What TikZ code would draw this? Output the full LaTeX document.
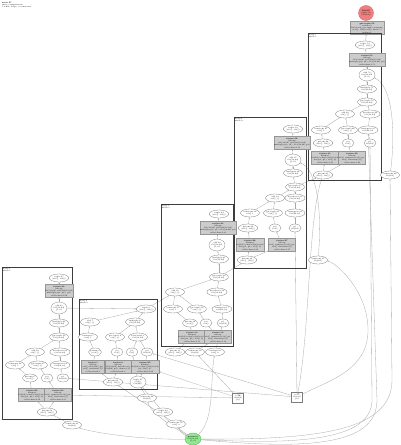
\documentclass[tikz,border=0pt]{standalone}
\usetikzlibrary{shapes.geometric,arrows.meta,backgrounds}

\definecolor{edgegray}{RGB}{168,168,168}
\definecolor{opline}{RGB}{125,125,125}
\definecolor{fusfill}{RGB}{204,204,204}
\definecolor{fusline}{RGB}{150,150,150}
\definecolor{clusline}{RGB}{60,60,60}
\definecolor{rootfill}{RGB}{240,128,128}
\definecolor{rootline}{RGB}{205,90,90}
\definecolor{parfill}{RGB}{144,232,144}
\definecolor{parline}{RGB}{70,175,70}

\newcommand\tn{\fontsize{1.9}{2.3}\selectfont}

\tikzset{
  op/.style={ellipse, draw=opline, fill=white, line width=0.3pt, inner sep=0pt,
    minimum width=19bp, minimum height=8bp, align=center, font=\tn},
  opsm/.style={op, minimum width=12bp},
  optup/.style={op, minimum width=16bp, minimum height=12bp},
  fus/.style={rectangle, draw=fusline, fill=fusfill, line width=0.3pt, inner sep=0.4pt,
    minimum width=25bp, minimum height=13bp, align=center, font=\tn},
  cst/.style={rectangle, draw=opline, fill=white, line width=0.3pt, inner sep=0.4pt,
    minimum width=11bp, minimum height=10bp, align=center, font=\tn},
  clus/.style={draw=clusline, line width=0.8pt},
  clabel/.style={anchor=north west, inner sep=0.6pt, align=left, font=\tn},
  ed/.style={draw=edgegray, line width=0.3pt, -{Stealth[length=1.4bp,width=1.1bp]}}
}

\begin{document}
\begin{tikzpicture}[x=1bp, y=-1bp]
\useasboundingbox (0,0) rectangle (400,445);

\node[clabel] (title) at (1,1) {\textbf{main.57}\\entry computation\\5 while loops, 2 constants};

% root and output
\node[ellipse, draw=rootline, fill=rootfill, line width=0.3pt, inner sep=0pt,
  minimum width=15bp, minimum height=15bp, align=center, font=\tn] (r0) at (366,13) {\textbf{ROOT}\\tuple.56\\(f32[64])};
\node[fus] (g0) at (367,28) {\textbf{get-tuple.55}\\index=0\\f32[32,64] get-tuple-element(\\(s32[], f32[32,64]) while.5)\\index=1};

% while body 1
\draw[clus] (308,33) rectangle (381,180);
\node[clabel] at (308,33) {body.5\\while.5};
\node[op] (a1) at (365,45) {tuple.54\\(s32[], f32[])};
\node[fus] (a2) at (367,60) {\textbf{fusion.53}\\kLoop\\f32[32,64] add(f32[32,64]\\multiply(p0, p1), f32[32,64] p2)\\calls=fused.53};
\node[optup] (a3) at (367,75) {add.52\\f32[32,64]\\\{1,0\}};
\node[op] (a4) at (367,89) {multiply.51\\f32[32,64]};
\node[op] (a5) at (367,102) {get-tuple.50\\f32[32,64]};
\node[op] (a6) at (345,114) {add.49\\s32[] \{\}};
\node[op] (a7) at (370,114) {broadcast.48\\f32[32,64]};
\node[op] (a8) at (321,130) {constant.47\\s32[] 1};
\node[op] (a9) at (348,130) {get-tuple.46\\s32[] \{\}};
\node[op] (a10) at (368,130) {transpose.45\\f32[64,32]};
\node[op] (a11) at (323,143) {param.44\\(s32[], f32[])};
\node[opsm] (a12) at (348,143) {p.0\\s32[]};
\node[opsm] (a13) at (370,143) {p.1\\f32[64]};
\node[fus] (a14) at (325,158) {\textbf{fusion.43}\\kInput\\f32[64] reduce(f32[32,64]\\dot(p0, p1), f32[] 0)\\calls=fused.43};
\node[fus] (a15) at (352,158) {\textbf{fusion.42}\\kLoop\\s32[] compare(s32[] p0,\\s32[] constant(8))\\calls=fused.42};
\node[op] (a16) at (323,175) {param.41\\(s32[], f32[])};
\node[op] (a17) at (390,175) {constant.40\\f32[64]};

% while body 2
\draw[clus] (234,117) rectangle (306,268);
\node[clabel] at (234,117) {body.4\\while.4};
\node[op] (b1) at (293,129) {tuple.39\\(s32[], f32[])};
\node[fus] (b2) at (292,143) {\textbf{fusion.38}\\kLoop\\f32[32,64] add(f32[32,64]\\multiply(p0, p1), f32[32,64] p2)\\calls=fused.38};
\node[optup] (b3) at (293,160) {add.37\\f32[32,64]\\\{1,0\}};
\node[op] (b4) at (293,173) {multiply.36\\f32[32,64]};
\node[op] (b5) at (295,187) {get-tuple.35\\f32[32,64]};
\node[op] (b6) at (275,198) {add.34\\s32[] \{\}};
\node[op] (b7) at (295,198) {broadcast.33\\f32[32,64]};
\node[op] (b8) at (250,213) {constant.32\\s32[] 1};
\node[op] (b9) at (273,213) {get-tuple.31\\s32[] \{\}};
\node[op] (b10) at (295,213) {transpose.30\\f32[64,32]};
\node[op] (b11) at (248,228) {param.29\\(s32[], f32[])};
\node[opsm] (b12) at (275,228) {p.0\\s32[]};
\node[opsm] (b13) at (295,228) {p.1\\f32[64]};
\node[fus] (b14) at (250,245) {\textbf{fusion.28}\\kInput\\f32[64] reduce(f32[32,64]\\dot(p0, p1), f32[] 0)\\calls=fused.28};
\node[fus] (b15) at (282,245) {\textbf{fusion.27}\\kLoop\\s32[] compare(s32[] p0,\\s32[] constant(8))\\calls=fused.27};
\node[op] (b16) at (247,260) {param.26\\(s32[], f32[])};
\node[op] (b17) at (318,260) {constant.25\\f32[64]};

% while body 3
\draw[clus] (161,204) rectangle (233,346);
\node[clabel] at (161,204) {body.3\\while.3};
\node[op] (c1) at (219,214) {tuple.24\\(s32[], f32[])};
\node[fus] (c2) at (218,228) {\textbf{fusion.23}\\kLoop\\f32[32,64] add(f32[32,64]\\multiply(p0, p1), f32[32,64] p2)\\calls=fused.23};
\node[optup] (c3) at (217,245) {add.22\\f32[32,64]\\\{1,0\}};
\node[op] (c4) at (219,259) {multiply.21\\f32[32,64]};
\node[op] (c5) at (219,277) {get-tuple.20\\f32[32,64]};
\node[op] (c6) at (175,292) {add.19\\s32[] \{\}};
\node[op] (c7) at (217,292) {broadcast.18\\f32[32,64]};
\node[op] (c8) at (173,309) {constant.17\\s32[] 1};
\node[op] (c9) at (197,309) {get-tuple.16\\s32[] \{\}};
\node[op] (c10) at (222,309) {transpose.15\\f32[64,32]};
\node[opsm] (c11) at (190,323) {param.14\\(s32[])};
\node[opsm] (c12) at (206,323) {p.0\\s32[]};
\node[opsm] (c13) at (223,323) {p.1\\f32[64]};
\node[fus, minimum width=24bp] (c14) at (192,337) {\textbf{fusion.13}\\kInput\\f32[64] reduce(f32[32,64]\\dot(p0, p1), f32[] 0)\\calls=fused.13};
\node[fus, minimum width=24bp] (c15) at (218,337) {\textbf{fusion.12}\\kLoop\\s32[] compare(s32[] p0,\\s32[] constant(8))\\calls=fused.12};
\node[op] (c16) at (175,352) {param.11\\(s32[], f32[])};
\node[op] (c17) at (195,352) {constant.10\\f32[64]};
\node[op] (c18) at (215,352) {constant.9\\s32[] 0};

% while body 4
\draw[clus] (79,299) rectangle (157,389);
\node[clabel] at (79,299) {body.2\\while.2};
\node[op] (e1) at (146,309) {tuple.8\\(s32[], f32[])};
\node[op] (e2) at (90,322) {add.7\\s32[] \{\}};
\node[op] (e3) at (135,322) {multiply.6\\f32[32,64]};
\node[op] (e4) at (88,337) {constant.5\\s32[] 1};
\node[op] (e5) at (115,337) {get-tuple.4\\s32[] \{\}};
\node[op] (e6) at (138,337) {broadcast.3\\f32[32,64]};
\node[opsm] (e7) at (95,352) {param.2\\(s32[])};
\node[opsm] (e8) at (117,352) {p.0\\s32[]};
\node[opsm] (e9) at (132,352) {p.1\\f32[]};
\node[opsm] (e10) at (147,352) {p.2\\f32[64]};
\node[fus, minimum width=23bp] (e11) at (93,367) {\textbf{fusion.1}\\kLoop\\s32[] add(s32[] p0,\\s32[] constant(1))\\calls=fused.1};
\node[fus, minimum width=23bp] (e12) at (118,367) {\textbf{fusion.0}\\kLoop\\f32[32,64] broadcast(\\f32[64] p0), dims=\{1\}\\calls=fused.0};
\node[fus, minimum width=23bp] (e13) at (145,367) {\textbf{fusion.99}\\kInput\\f32[64] reduce(f32[32,64]\\p0, f32[] 0)\\calls=fused.99};
\node[op] (e14) at (113,382) {param.98\\(s32[], f32[])};
\node[optup] (e15) at (138,382) {tuple.97\\(s32[],\\f32[64])};
\node[op] (e16) at (147,398) {constant.96\\f32[64]};

% while body 5
\draw[clus] (2,267) rectangle (72,419);
\node[clabel] at (2,267) {body.1\\while.1};
\node[op] (d1) at (59,278) {tuple.95\\(s32[], f32[])};
\node[fus, minimum width=24bp] (d2) at (59,291) {\textbf{fusion.94}\\kLoop\\f32[32,64] add(f32[32,64]\\multiply(p0, p1), p2)\\calls=fused.94};
\node[optup] (d3) at (59,308) {add.93\\f32[32,64]\\\{1,0\}};
\node[op] (d4) at (59,323) {multiply.92\\f32[32,64]};
\node[op] (d5) at (59,337) {get-tuple.91\\f32[32,64]};
\node[op] (d6) at (35,352) {add.90\\s32[] \{\}};
\node[op] (d7) at (60,352) {broadcast.89\\f32[32,64]};
\node[op] (d8) at (15,365) {constant.88\\s32[] 1};
\node[op] (d9) at (38,365) {get-tuple.87\\s32[] \{\}};
\node[op] (d10) at (60,365) {transpose.86\\f32[64,32]};
\node[opsm] (d11) at (30,378) {param.85\\(s32[])};
\node[opsm] (d12) at (47,378) {p.0\\s32[]};
\node[opsm] (d13) at (63,378) {p.1\\f32[64]};
\node[fus, minimum width=24bp] (d14) at (32,395) {\textbf{fusion.84}\\kInput\\f32[64] reduce(f32[32,64]\\dot(p0, p1), f32[] 0)\\calls=fused.84};
\node[fus, minimum width=24bp] (d15) at (58,395) {\textbf{fusion.83}\\kLoop\\s32[] compare(s32[] p0,\\s32[] constant(8))\\calls=fused.83};
\node[op] (d16) at (47,412) {param.82\\(s32[], f32[])};
\node[op] (d17) at (72,425) {constant.81\\f32[64]};

% bottom
\node[op] (f1) at (163,412) {tuple.80\\(s32[], f32[])};
\node[op] (f2) at (176,424) {constant.79\\s32[] 0};
\node[cst] (w1) at (238,398) {\textbf{c.78}\\f32[64]\\\{0\}};
\node[cst] (w2) at (297,397) {\textbf{c.77}\\f32[32]\\\{0\}};
\node[ellipse, draw=parline, fill=parfill, line width=0.3pt, inner sep=0pt,
  minimum width=16bp, minimum height=12bp, align=center, font=\tn] (gr) at (193,439) {\textbf{param.0}\\f32[32,64]\\\{1,0\}};

\begin{scope}[on background layer]
\draw[ed] (g0) -- (r0);
\draw[ed] (a1) -- (g0);
\foreach \c in {a,b,c,d}{
  \foreach \s/\t in {2/1,3/2,4/3,5/4,6/5,7/5,8/6,9/6,10/7,11/8,12/9,13/10,14/11,15/12}
    \draw[ed] (\c\s) -- (\c\t);
}
\draw[ed] (a16) -- (a14);
\draw[ed] (a16) -- (a15);
\draw[ed] (b16) -- (b14);
\draw[ed] (b16) -- (b15);
\draw[ed] (d16) -- (d14);
\draw[ed] (d16) -- (d15);
\draw[ed] (c16) -- (c14);
\draw[ed] (c17) -- (c15);
\draw[ed] (c18) -- (c13);
\draw[ed] (e2) -- (e1);
\draw[ed] (e3) -- (e1);
\draw[ed] (e4) -- (e2);
\draw[ed] (e5) -- (e3);
\draw[ed] (e6) -- (e3);
\draw[ed] (e7) -- (e4);
\draw[ed] (e8) -- (e5);
\draw[ed] (e9) -- (e6);
\draw[ed] (e10) -- (e6);
\draw[ed] (e11) -- (e7);
\draw[ed] (e12) -- (e8);
\draw[ed] (e13) -- (e10);
\draw[ed] (e14) -- (e11);
\draw[ed] (e14) -- (e12);
\draw[ed] (e15) -- (e13);
\draw[ed] (e15) -- (e9);
% between loops
\draw[ed] (b5) -- (a16);
\draw[ed] (c5) -- (b16);
\draw[ed] (e1) -- (c6);
\draw[ed] (d3) -- (e1);
\draw[ed] (a17) .. controls (396,130) and (392,85) .. (a3);
\draw[ed] (b17) .. controls (322,215) and (318,170) .. (b3);
% from the parameter and constants
\draw[ed] (gr) .. controls (300,445) and (372,440) .. (372,400) -- (a13);
\draw[ed] (gr) .. controls (310,450) and (377,445) .. (377,400) -- (a10);
\draw[ed] (gr) .. controls (320,440) and (392,430) .. (392,380) -- (a17);
\draw[ed] (gr) .. controls (215,420) and (210,380) .. (c18);
\draw[ed] (gr) .. controls (182,434) and (180,430) .. (f2);
\draw[ed] (gr) .. controls (178,428) and (166,420) .. (f1);
\draw[ed] (gr) .. controls (170,425) and (150,412) .. (e16);
\draw[ed] (gr) .. controls (140,440) and (90,432) .. (d17);
\draw[ed] (f1) -- (e15);
\draw[ed] (f2) -- (e14);
\draw[ed] (e16) -- (e15);
\draw[ed] (d17) -- (d16);
\draw[ed] (w1) -- (c17);
\draw[ed] (w1) -- (e13);
\draw[ed] (w1) -- (d15);
\draw[ed] (w2) .. controls (330,380) and (368,370) .. (368,330) .. controls (368,290) and (335,262) .. (b17);
\draw[ed] (w2) -- (b13);
\draw[ed] (w2) .. controls (310,330) and (308,220) .. (a16);
\draw[ed] (w2) -- (e10);
\draw[ed] (w2) -- (d13);
\end{scope}
\end{tikzpicture}
\end{document}
